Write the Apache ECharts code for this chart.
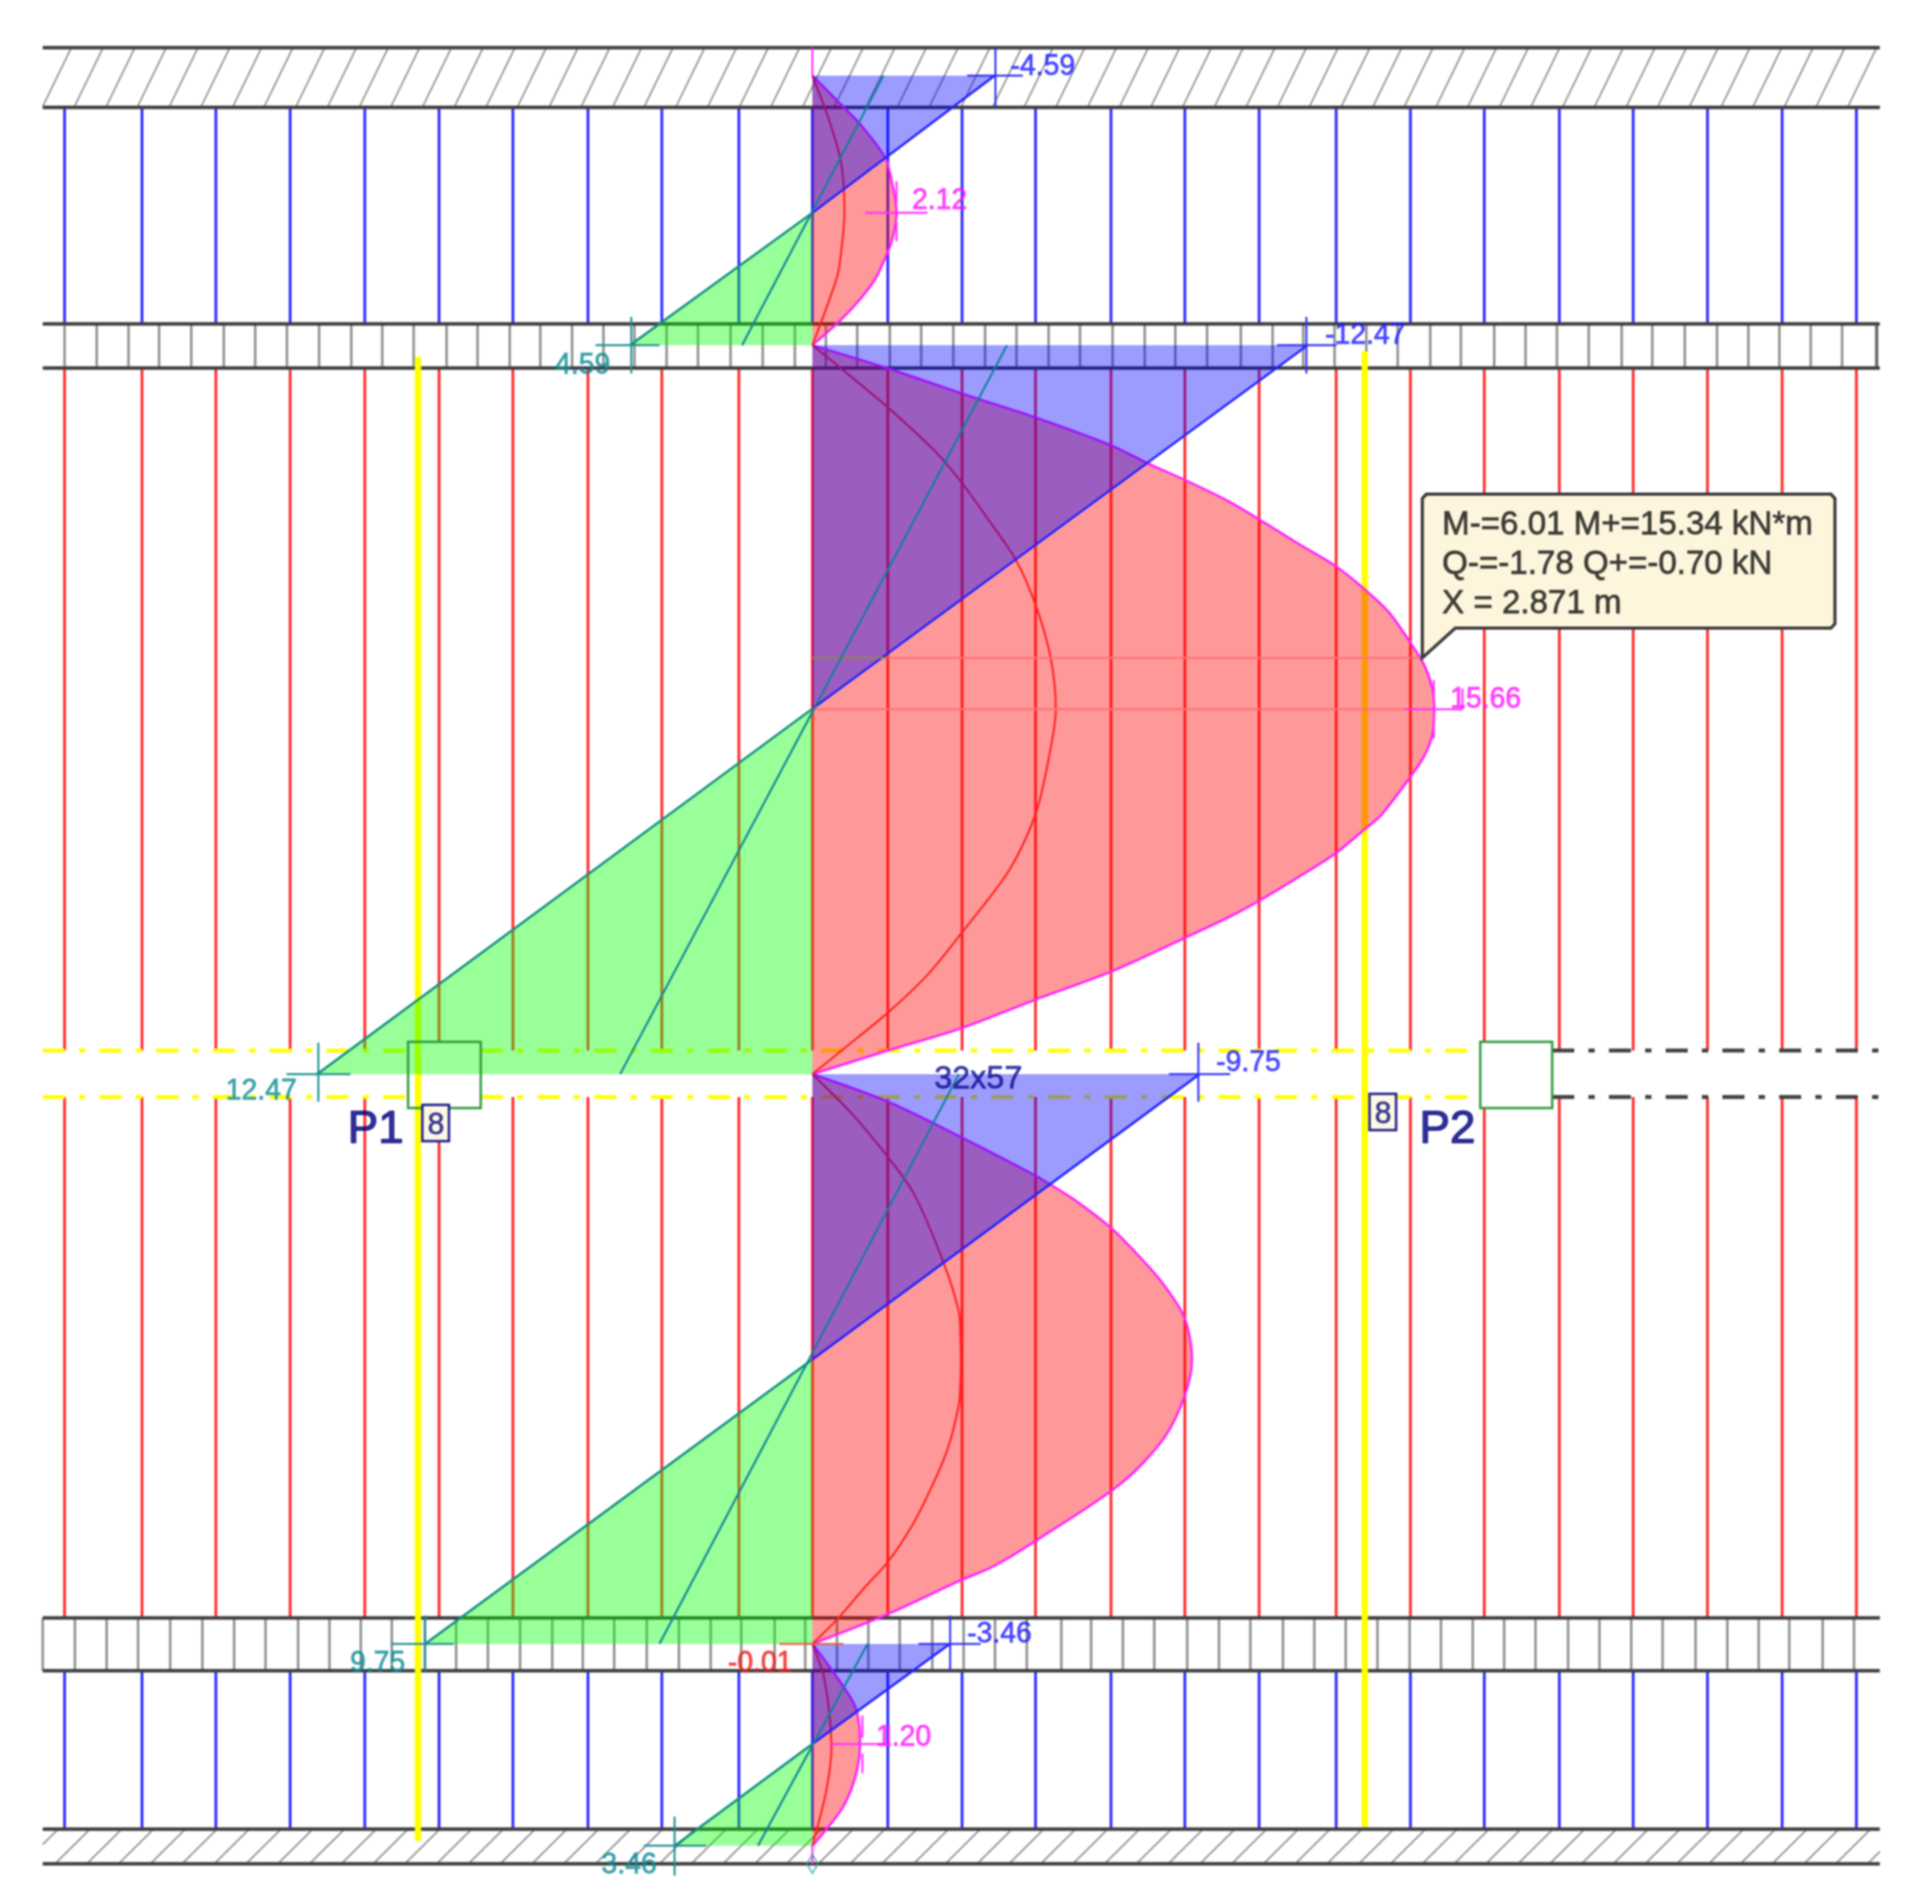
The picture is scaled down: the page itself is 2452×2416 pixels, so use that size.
<!DOCTYPE html>
<html>
<head>
<meta charset="utf-8">
<title>Beam moment and shear envelope</title>
<style>
  html, body { margin: 0; padding: 0; background: #fff; }
  #chart { width: 2452px; height: 2416px; filter: blur(0.8px); }
</style>
</head>
<body>
<div id="chart"></div>
<script src="https://cdn.jsdelivr.net/npm/echarts@6/dist/echarts.min.js"></script>
<script>
// x axis: kN and kN*m (same scale), 0 on the element axis. y axis: metres from the P1-P2 floor.

// moment envelope M+ per span (magenta outline, pink fill)
var m1X = [0, 0.77, 1.21, 1.83, 2.02, 2.12, 2.02, 1.87, 1.57, 1.11, 0.63, 0];
var m1Y = [6.886, 6.674, 6.549, 6.321, 6.130, 5.940, 5.766, 5.652, 5.478, 5.315, 5.179, 5.027];
var m2X = [0, 1.87, 3.93, 5.64, 7.52, 8.45, 9.38, 10.48, 11.25, 12.24, 13.17, 13.89, 14.52, 15.08, 15.40, 15.61, 15.66, 15.61, 15.40, 15.04, 14.31, 13.89, 13.17, 12.24, 11.25, 10.48, 9.38, 7.52, 5.64, 3.73, 1.90, 0];
var m2Y = [5.027, 4.870, 4.679, 4.527, 4.337, 4.212, 4.098, 3.951, 3.826, 3.658, 3.505, 3.348, 3.185, 2.967, 2.826, 2.663, 2.516, 2.337, 2.190, 2.043, 1.783, 1.685, 1.522, 1.359, 1.196, 1.082, 0.940, 0.707, 0.516, 0.315, 0.163, 0];
var m3X = [0, 1.90, 3.75, 5.63, 5.99, 6.67, 7.52, 8.06, 8.77, 9.37, 9.56, 9.37, 8.85, 7.78, 5.63, 4.54, 3.75, 1.90, 0];
var m3Y = [0, -0.190, -0.435, -0.701, -0.761, -0.880, -1.060, -1.207, -1.424, -1.679, -1.967, -2.223, -2.511, -2.821, -3.217, -3.397, -3.489, -3.723, -3.929];
var m4X = [0, 0.60, 1.09, 1.20, 1.09, 0.77, 0.10, 0];
var m4Y = [-3.929, -4.152, -4.370, -4.620, -4.837, -5.054, -5.293, -5.321];

// inner moment curve per span (red)
var i1X = [0, 0.44, 0.73, 0.81, 0.73, 0.62, 0];
var i1Y = [6.886, 6.565, 6.277, 5.951, 5.679, 5.495, 5.027];
var i2X = [0, 0.71, 1.90, 3.10, 3.77, 4.44, 5.12, 5.64, 6.01, 6.13, 6.01, 5.64, 4.97, 3.77, 2.90, 1.90, 0.81, 0];
var i2Y = [5.027, 4.870, 4.598, 4.293, 4.076, 3.821, 3.549, 3.223, 2.859, 2.516, 2.261, 1.810, 1.413, 0.978, 0.685, 0.424, 0.179, 0];
var i3X = [0, 0.97, 1.90, 2.56, 3.31, 3.69, 3.73, 3.74, 3.73, 3.69, 3.41, 3.02, 2.52, 1.90, 1.31, 0.62, 0];
var i3Y = [0, -0.266, -0.571, -0.826, -1.304, -1.641, -1.821, -1.967, -2.114, -2.277, -2.582, -2.837, -3.109, -3.364, -3.543, -3.761, -3.929];
var i4X = [0, 0.30, 0.48, 0.36, 0];
var i4Y = [-3.929, -4.168, -4.620, -4.929, -5.321];

// shear per span: value at top, zero crossing, value at bottom
var q1X = [-4.59, 0, 4.59];
var q1Y = [5.027, 5.940, 6.886];
var q2X = [-12.47, 0, 12.47];
var q2Y = [0, 2.520, 5.027];
var q3X = [-9.75, 0, 9.75];
var q3Y = [-3.929, -1.967, 0];
var q4X = [-3.46, 0, 3.46];
var q4Y = [-5.321, -4.620, -3.929];

// thin teal line per span
var t1X = [1.79, -1.77], t1Y = [6.886, 5.027];
var t2X = [4.90, -4.84], t2Y = [5.027, 0];
var t3X = [3.69, -3.85], t3Y = [0, -3.929];
var t4X = [1.39, -1.37], t4Y = [-3.929, -5.321];

// vertical bars
var barX = [-18.83, -16.88, -15.02, -13.15, -11.27, -9.40, -7.54, -5.65, -3.79, -1.85, 0, 1.90, 3.77, 5.62, 7.52, 9.38, 11.25, 13.19, 15.06, 16.92, 18.81, 20.67, 22.54, 24.42, 26.29];
var blueSpans = [[6.668, 5.174], [-4.114, -5.207]];
var redSpans = [[4.870, 0.163], [-0.158, -3.750]];

// structure
var leftEnd = -19.38, rightEnd = 26.88;
var structLevels = [7.079, 6.668, 5.174, 4.870, -3.750, -4.114, -5.207, -5.446];
var floorLevels = [0.163, -0.158];
var topBeamTicks = [-18.83, -18.02, -17.22, -16.45, -15.64, -14.82, -14.03, -13.23, -12.42, -11.61, -10.83, -10.04, -9.21, -8.43, -7.62, -6.85, -6.05, -5.26, -4.48, -3.67, -2.88, -2.06, -1.25, -0.44, 0.34, 1.13, 1.95, 2.74, 3.55, 4.35, 5.14, 5.95, 6.74, 7.56, 8.37, 9.14, 9.94, 10.79, 11.59, 12.36, 13.15, 13.95, 14.74, 15.56, 16.33, 17.17, 17.96, 18.75, 19.55, 20.38, 21.15, 21.97, 22.78, 23.57, 24.35, 25.14, 25.93, 26.80];
var lowBeamTicks = [-19.38, -18.57, -17.77, -16.98, -16.17, -15.36, -14.56, -13.77, -12.95, -12.16, -11.37, -10.59, -9.76, -8.97, -8.17, -7.36, -6.55, -5.78, -4.99, -4.17, -3.36, -2.56, -1.79, -0.95, -0.18, 0.62, 1.41, 2.20, 3.02, 3.81, 4.60, 5.40, 6.27, 7.02, 7.82, 8.61, 9.44, 10.24, 11.03, 11.85, 12.64, 13.43, 14.23, 15.04, 15.83, 16.63, 17.42, 18.21, 19.03, 19.82, 20.62, 21.41, 22.24, 23.04, 23.83, 24.60, 25.44, 26.23];
var topHatch = [-19.39, -18.59, -17.79, -17.00, -16.20, -15.40, -14.60, -13.81, -13.01, -12.21, -11.41, -10.62, -9.82, -9.02, -8.22, -7.43, -6.63, -5.83, -5.03, -4.24, -3.44, -2.64, -1.84, -1.05, -0.25, 0.55, 1.35, 2.14, 2.94, 3.74, 4.54, 5.33, 6.13, 6.93, 7.73, 8.52, 9.32, 10.12, 10.92, 11.71, 12.51, 13.31, 14.11, 14.90, 15.70, 16.50, 17.30, 18.09, 18.89, 19.69, 20.49, 21.28, 22.08, 22.88, 23.68, 24.47, 25.27, 26.07, 26.87];
var lowHatch = [-19.87, -19.07, -18.27, -17.47, -16.67, -15.87, -15.06, -14.26, -13.46, -12.66, -11.86, -11.06, -10.26, -9.46, -8.66, -7.86, -7.06, -6.26, -5.46, -4.65, -3.85, -3.05, -2.25, -1.45, -0.65, 0.15, 0.95, 1.75, 2.55, 3.35, 4.15, 4.95, 5.75, 6.56, 7.36, 8.16, 8.96, 9.76, 10.56, 11.36, 12.16, 12.96, 13.76, 14.56, 15.36, 16.16, 16.96, 17.77, 18.57, 19.37, 20.17, 20.97, 21.77, 22.57, 23.37, 24.17, 24.97, 25.77, 26.57];

// columns and rebar lines
var colP1X = [-10.18, -8.35], colP2X = [16.82, 18.63], colY = [0.223, -0.234];
var rebarX = [-9.93, 13.91];
var rebarY = [[4.946, -5.288], [4.984, -5.190]];
var tagX = [[-9.82, -9.15], [14.03, 14.70]];
var tagY = [[-0.212, -0.462], [-0.136, -0.386]];

// callout
var calloutX = [15.46, 25.65, 25.75, 25.75, 25.65, 16.19, 15.36, 15.36];
var calloutY = [4.000, 4.000, 3.970, 3.106, 3.076, 3.076, 2.871, 3.970];
var calloutText = ['M-=6.01 M+=15.34 kN*m', 'Q-=-1.78 Q+=-0.70 kN', 'X = 2.871 m'];
var calloutTextY = [3.804, 3.533, 3.261];
var calloutTextX = 15.85;

// value labels and their crosses
var blueText = ['-4.59', '-12.47', '-9.75', '-3.46'];
var blueTextX = [4.98, 12.90, 10.16, 3.89];
var blueTextY = [6.962, 5.109, 0.092, -3.848];
var blueCross = [[4.61, 7.079, 4.61, 6.668], [3.90, 6.886, 5.30, 6.886], [12.44, 5.223, 12.44, 4.832], [11.70, 5.027, 13.20, 5.027], [9.72, 0.217, 9.72, -0.190], [8.98, 0, 10.52, 0], [3.47, -3.734, 3.47, -4.114], [2.67, -3.929, 4.24, -3.929]];
var tealText = ['4.59', '12.47', '9.75', '3.46'];
var tealTextX = [-6.49, -14.78, -11.65, -5.32];
var tealTextY = [4.902, -0.103, -4.049, -5.440];
var tealCross = [[-4.56, 5.223, -4.56, 4.832], [-5.46, 5.027, -3.85, 5.027], [-12.44, 0.217, -12.44, -0.190], [-13.24, 0, -11.63, 0], [-9.75, -3.734, -9.75, -4.114], [-10.60, -3.929, -9.03, -3.929], [-3.47, -5.120, -3.47, -5.527], [-4.24, -5.321, -2.67, -5.321]];
var pinkText = ['2.12', '15.66', '1.20'];
var pinkTextX = [2.50, 16.05, 1.59];
var pinkTextY = [6.038, 2.598, -4.560];
var pinkCross = [[2.12, 6.158, 2.12, 6.005], [2.12, 5.875, 2.12, 5.745], [1.33, 5.940, 2.90, 5.940], [15.65, 2.717, 15.65, 2.571], [15.65, 2.489, 15.65, 2.315], [14.90, 2.516, 16.37, 2.516], [16.37, 2.516, 16.37, 2.660], [1.26, -4.424, 1.26, -4.576], [1.26, -4.685, 1.26, -4.821], [0.44, -4.620, 1.93, -4.620], [1.93, -4.620, 1.93, -4.490], [0, 7.079, 0, 6.886], [0, -5.321, 0, -5.446]];
var redText = ['-0.01'];
var redTextX = [-2.14];
var redTextY = [-4.049];
var redCross = [[-0.83, -3.929, 0.78, -3.929]];
var navyText = ['32x57'];
var navyTextX = [3.06];
var navyTextY = [-0.022];
var columnText = ['P1', 'P2'];
var columnTextX = [-11.71, 15.28];
var columnTextY = [-0.370, -0.370];
var tagText = ['8', '8'];
var tagTextX = [-9.48, 14.37];
var tagTextY = [-0.337, -0.261];

var FONT = '"Liberation Sans", Arial, sans-serif';

function zip(xs, ys) {
    return xs.map(function (x, i) { return [x, ys[i]]; });
}

function polygon(name, xs, ys, style, z) {
    return {
        name: name, type: 'custom', coordinateSystem: 'cartesian2d', z: z, silent: true, clip: false,
        data: zip(xs, ys),
        renderItem: function (params, api) {
            if (params.dataIndex !== 0) return;
            return { type: 'polygon', shape: { points: zip(xs, ys).map(function (p) { return api.coord(p); }) }, style: style };
        }
    };
}

// open smoothed curve; with a fill in the style it closes straight along the axis
function smoothCurve(name, xs, ys, style, z) {
    return {
        name: name, type: 'custom', coordinateSystem: 'cartesian2d', z: z, silent: true, clip: false,
        data: zip(xs, ys),
        renderItem: function (params, api) {
            if (params.dataIndex !== 0) return;
            return {
                type: 'polyline',
                shape: { points: zip(xs, ys).map(function (p) { return api.coord(p); }), smooth: 0.3 },
                style: style
            };
        }
    };
}

function rect(name, xs, ys, style, z) {
    return polygon(name, [xs[0], xs[1], xs[1], xs[0]], [ys[0], ys[0], ys[1], ys[1]], style, z);
}

function segments(name, segs, color, width, z, dash) {
    return {
        name: name, type: 'custom', coordinateSystem: 'cartesian2d', z: z, silent: true, clip: false,
        data: segs,
        renderItem: function (params, api) {
            var a = api.coord([api.value(0), api.value(1)]);
            var b = api.coord([api.value(2), api.value(3)]);
            return {
                type: 'line',
                shape: { x1: a[0], y1: a[1], x2: b[0], y2: b[1] },
                style: { stroke: color, lineWidth: width, lineDash: dash || null, fill: null }
            };
        }
    };
}

function curve(name, xs, ys, color, width, z) {
    return {
        name: name, type: 'line', z: z, silent: true, showSymbol: false,
        data: zip(xs, ys),
        lineStyle: { color: color, width: width }
    };
}

function labels(name, texts, xs, ys, color, size, z, weight, pos, border) {
    return {
        name: name, type: 'scatter', z: z, silent: true, symbolSize: 1,
        itemStyle: { color: 'rgba(0,0,0,0)' },
        data: texts.map(function (t, i) { return { name: t, value: [xs[i], ys[i]] }; }),
        label: {
            show: true, formatter: '{b}', position: pos || 'right', distance: 0, offset: [0, 3],
            color: color, fontFamily: FONT, fontSize: size, fontWeight: weight || 'normal',
            textBorderColor: color, textBorderWidth: border === undefined ? 0.8 : border
        }
    };
}

function verticals(xs, spans) {
    var out = [];
    spans.forEach(function (s) {
        xs.forEach(function (x) { out.push([x, s[0], x, s[1]]); });
    });
    return out;
}

// hatch stroke from the lower wall line up to the upper one, cut at the wall ends
function hatch(starts, yLow, yHigh, dx) {
    return starts.map(function (x0) {
        var x1 = x0 + dx, y0 = yLow, y1 = yHigh, slope = (yHigh - yLow) / dx;
        if (x0 < leftEnd) { y0 = yLow + (leftEnd - x0) * slope; x0 = leftEnd; }
        if (x1 > rightEnd) { y1 = yLow + (rightEnd - (x1 - dx)) * slope; x1 = rightEnd; }
        return [x0, y0, x1, y1];
    });
}

var series = [];

// lowest layer: bars, ticks, hatches, structure lines
series.push(segments('blue bars', verticals(barX, blueSpans), '#2A2AFF', 3.5, 1));
series.push(segments('red bars', verticals(barX, redSpans), '#FF2A2A', 3.5, 1));
series.push(segments('top beam ticks', verticals(topBeamTicks, [[5.174, 4.870]]), '#8A8A8A', 3, 2));
series.push(segments('low beam ticks', verticals(lowBeamTicks, [[-3.750, -4.114]]), '#8A8A8A', 3, 2));
series.push(segments('top beam end', [[26.80, 5.174, 26.80, 4.870]], '#666', 4, 2));
series.push(segments('top hatch', hatch(topHatch, 6.668, 7.079, 0.73), '#909090', 2, 2));
series.push(segments('low hatch', hatch(lowHatch, -5.446, -5.207, 0.88), '#909090', 2, 2));
series.push(segments('structure', structLevels.map(function (y) { return [leftEnd, y, rightEnd, y]; }), '#404040', 4.5, 3));
series.push(rect('P2 column', colP2X, colY, { fill: '#fff' }, 4));
series.push(rect('P1 column', colP1X, colY, { fill: '#fff' }, 4));
series.push(segments('floor dash', floorLevels.reduce(function (out, y) {
    out.push([leftEnd, y, colP1X[0], y]);
    out.push([colP1X[1], y, colP2X[0], y]);
    return out;
}, []), '#FFFF00', 5, 5, [28, 18, 8, 18]));
series.push(segments('floor dash right', floorLevels.map(function (y) { return [colP2X[1], y, rightEnd, y]; }), '#404040', 5, 5, [28, 18, 8, 18]));
series.push(segments('rebar', rebarX.map(function (x, i) { return [x, rebarY[i][0], x, rebarY[i][1]]; }), '#FFFF00', 8, 6));

// moment diagrams
[[m1X, m1Y], [m2X, m2Y], [m3X, m3Y], [m4X, m4Y]].forEach(function (m, i) {
    series.push(smoothCurve('moment ' + i, m[0], m[1], { fill: 'rgba(255,0,0,0.4)', stroke: '#FF20FF', lineWidth: 3 }, 10));
});
[[i1X, i1Y], [i2X, i2Y], [i3X, i3Y], [i4X, i4Y]].forEach(function (c, i) {
    series.push(smoothCurve('inner moment ' + i, c[0], c[1], { fill: 'none', stroke: '#FF2020', lineWidth: 2.5 }, 11));
});

// shear diagrams: green side then blue side, laid over the moment
[[q1X, q1Y], [q2X, q2Y], [q3X, q3Y], [q4X, q4Y]].forEach(function (q, i) {
    series.push(polygon('shear green ' + i, [q[0][1], q[0][0], 0], [q[1][1], q[1][0], q[1][0]], { fill: 'rgba(0,255,0,0.4)' }, 12));
    series.push(polygon('shear blue ' + i, [0, q[0][2], 0], [q[1][2], q[1][2], q[1][1]], { fill: 'rgba(0,0,255,0.39)' }, 13));
    series.push(curve('shear edge green ' + i, q[0].slice(0, 2), q[1].slice(0, 2), '#129080', 3, 14));
    series.push(curve('shear edge blue ' + i, q[0].slice(1), q[1].slice(1), '#2222FF', 3, 14));
});
[[t1X, t1Y], [t2X, t2Y], [t3X, t3Y], [t4X, t4Y]].forEach(function (t, i) {
    series.push(curve('teal ' + i, t[0], t[1], '#0E8098', 2.5, 15));
});

// hairlines at the callout level and at the peak
series.push(segments('hairline purple', [[0, 2.871, 1.90, 2.871]], '#92805A', 2.5, 15));
series.push(segments('hairline pink', [[1.90, 2.871, 15.36, 2.871], [0, 2.516, 14.90, 2.516]], '#FF7272', 2.5, 15));

// column outlines
series.push(rect('P1 outline', colP1X, colY, { fill: 'none', stroke: '#2E9A3C', lineWidth: 3 }, 16));
series.push(rect('P2 outline', colP2X, colY, { fill: 'none', stroke: '#2E9A3C', lineWidth: 3 }, 16));

// crosses
series.push(segments('blue cross', blueCross, '#3030F0', 2.5, 17));
series.push(segments('teal cross', tealCross, '#1C9090', 2.5, 17));
series.push(segments('pink cross', pinkCross, '#FF30FF', 2.5, 17));
series.push(segments('red cross', redCross, '#E8603C', 2.5, 17));
series.push({
    name: 'support', type: 'scatter', z: 17, silent: true, symbol: 'diamond', symbolSize: [14, 24],
    itemStyle: { color: 'rgba(255,255,255,0)', borderColor: '#3AA0A0', borderWidth: 2 },
    data: [[0, -5.446]]
});

// rebar count tags
tagX.forEach(function (xs, i) {
    series.push(rect('tag ' + i, xs, tagY[i], { fill: '#FDF8E2', stroke: '#1A1A8C', lineWidth: 3 }, 18));
});

// callout box
series.push(polygon('callout', calloutX, calloutY, { fill: '#FDF5DC', stroke: '#3C3C3C', lineWidth: 4 }, 19));

// texts
series.push(labels('blue labels', blueText, blueTextX, blueTextY, '#1C1CFF', 36, 20));
series.push(labels('teal labels', tealText, tealTextX, tealTextY, '#0C8C96', 36, 20));
series.push(labels('pink labels', pinkText, pinkTextX, pinkTextY, '#FF14FF', 36, 20));
series.push(labels('red labels', redText, redTextX, redTextY, '#F01818', 36, 20));
series.push(labels('section', navyText, navyTextX, navyTextY, '#0C0C90', 41, 20));
series.push(labels('columns', columnText, columnTextX, columnTextY, '#000080', 58, 20, 'normal', 'right', 1.6));
series.push(labels('tags', tagText, tagTextX, tagTextY, '#0C0C80', 38, 20, 'normal', 'inside'));
series.push(labels('callout text', calloutText, calloutText.map(function () { return calloutTextX; }), calloutTextY, '#101010', 42, 20));

var myChart = echarts.init(document.getElementById('chart'), null, { renderer: 'canvas' });
myChart.setOption({
    animation: false,
    backgroundColor: '#fff',
    grid: { left: 0, right: 0, top: 0, bottom: 0 },
    xAxis: { type: 'value', min: -20.456, max: 28.194, show: false },
    yAxis: { type: 'value', min: -5.723, max: 7.408, show: false },
    series: series
});
</script>
</body>
</html>
